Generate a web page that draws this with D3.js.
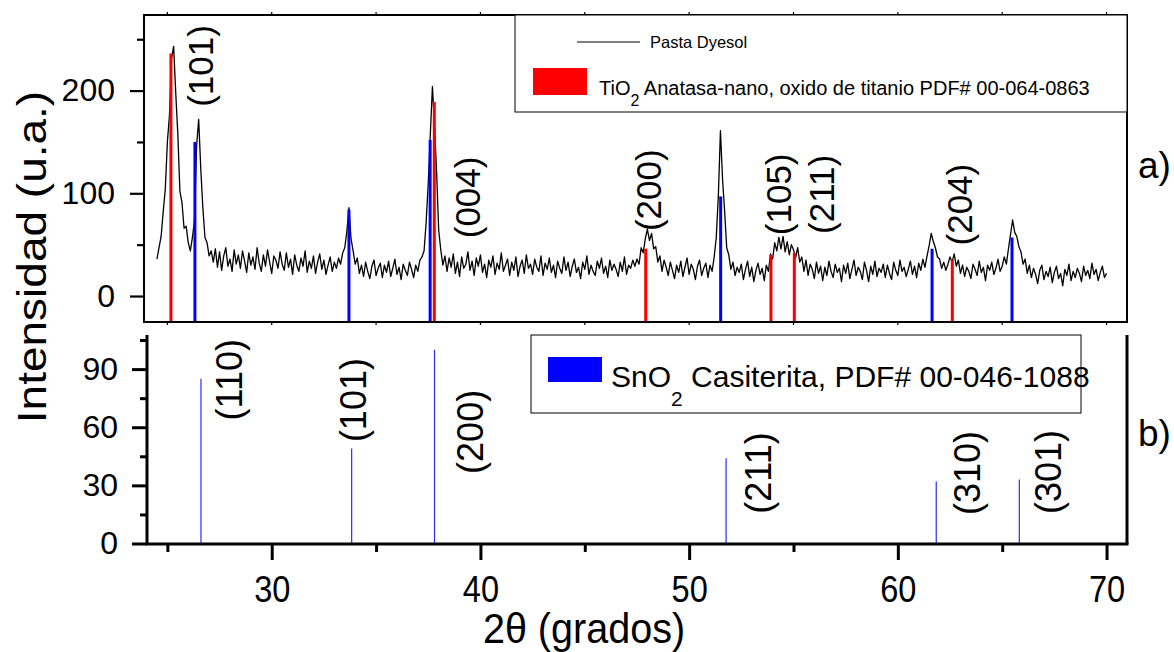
<!DOCTYPE html>
<html>
<head>
<meta charset="utf-8">
<script src="https://cdn.jsdelivr.net/npm/d3@7"></script>
<style>
  body { margin: 0; background: #fff; }
  svg { display: block; font-family: "Liberation Sans", Arial, sans-serif; }
</style>
</head>
<body>
<svg id="chart" width="1174" height="652"></svg>
<script>
// ---- measured pattern: Pasta Dyesol (2θ from 24.5° to 70.0°, every 0.1°) ----
const patternStart = 24.5;
const patternStep = 0.1;
const pastaDyesol = [
  36, 47, 58, 82, 104, 150, 176, 231, 243, 198,
  158, 102, 91, 66, 68, 52, 44, 57, 74, 146,
  172, 124, 86, 57, 52, 39, 44, 33, 46, 28,
  43, 25, 39, 47, 29, 36, 24, 45, 31, 40,
  27, 44, 34, 23, 42, 30, 38, 26, 47, 32,
  24, 40, 29, 45, 33, 22, 39, 35, 27, 43,
  31, 25, 42, 28, 36, 21, 40, 30, 24, 37,
  29, 44, 23, 34, 27, 39, 22, 33, 41, 26,
  35, 21, 30, 38, 24, 33, 27, 37, 31, 42,
  47, 63, 86, 56, 44, 31, 37, 22, 30, 19,
  33, 24, 17, 29, 35, 20, 27, 32, 18, 30,
  23, 34, 19, 27, 36, 21, 28, 16, 31, 25,
  20, 33, 26, 18, 30, 24, 35, 38, 44, 72,
  110, 158, 204, 166, 121, 64, 45, 30, 39, 24,
  37, 28, 41, 22, 33, 19, 38, 27, 31, 43,
  25, 34, 20, 37, 29, 40, 23, 31, 18, 35,
  28, 39, 21, 32, 26, 42, 24, 30, 36, 20,
  33, 25, 38, 19, 29, 35, 22, 40, 27, 31,
  21, 36, 28, 24, 39, 20, 32, 26, 37, 23,
  30, 18, 34, 27, 22, 38, 25, 33, 19, 29,
  36, 23, 28, 17, 33, 26, 39, 21, 30, 24,
  20, 34, 27, 37, 22, 29, 18, 35, 25, 31,
  26, 19, 33, 24, 38, 21, 30, 27, 35, 29,
  36, 31, 47, 42, 56, 65, 54, 61, 46, 48,
  33, 39, 24, 35, 28, 20, 33, 25, 17, 30,
  23, 34, 19, 28, 37, 21, 31, 26, 16, 29,
  35, 20, 27, 32, 18, 30, 24, 38, 57, 98,
  161, 114, 83, 47, 40, 26, 33, 20, 28, 23,
  31, 16, 26, 34, 19, 28, 14, 25, 32, 21,
  27, 15, 30, 24, 41, 36, 52, 44, 57, 46,
  58, 43, 53, 40, 50, 45, 37, 47, 33, 38,
  24, 35, 20, 31, 26, 17, 33, 22, 29, 15,
  28, 20, 34, 24, 18, 31, 23, 27, 14, 30,
  22, 32, 17, 26, 35, 20, 28, 24, 16, 33,
  25, 14, 29, 21, 34, 19, 27, 23, 31, 18,
  30, 22, 16, 33, 25, 20, 35, 24, 28, 19,
  26, 34, 21, 29, 18, 32, 25, 36, 28, 39,
  49, 61, 53, 47, 38, 36, 27, 33, 25, 31,
  38, 33, 41, 29, 35, 22, 30, 19, 28, 24,
  17, 31, 26, 20, 34, 23, 28, 15, 30, 25,
  33, 21, 27, 36, 24, 29, 38, 31, 46, 60,
  74, 62, 58, 48, 43, 31, 36, 22, 30, 18,
  27, 21, 12, 25, 30, 16, 24, 19, 28, 13,
  23, 29, 17, 22, 10, 26, 20, 31, 15, 24,
  18, 27, 22, 14, 29, 20, 25, 17, 32, 21,
  26, 15, 23, 29, 18, 22
];

// ---- TiO2 anatase reference lines (panel a) ----
const anataseAngles    = [25.17, 37.79, 47.92, 53.92, 55.04, 62.61];
const anataseIntensity = [236, 189, 46, 40, 42, 35];
const anataseHkl       = ["(101)", "(004)", "(200)", "(105)", "(211)", "(204)"];

// ---- SnO2 cassiterite lines drawn over the pattern (panel a) ----
const sno2MarkAngles    = [26.32, 33.70, 37.59, 51.51, 61.64, 65.47];
const sno2MarkIntensity = [150, 84, 152, 97, 46, 57];

// ---- SnO2 cassiterite reference card (panel b) ----
const sno2Angles    = [26.61, 33.83, 37.80, 51.77, 61.84, 65.82];
const sno2Intensity = [85, 49, 100, 44, 32, 33];
const sno2Hkl       = ["(110)", "(101)", "(200)", "(211)", "(310)", "(301)"];

// ---- axis ticks ----
const xTickValues       = [30, 40, 50, 60, 70];
const xMinorTickValues  = [25, 35, 45, 55, 65];
const yTopTickValues    = [0, 100, 200];
const yTopMinorValues   = [50, 150, 250];
const yBotTickValues    = [0, 30, 60, 90];
const yBotMinorValues   = [15, 45, 75, 105];

// ---- layout ----
const svg = d3.select("#chart");
const topBox = { left: 144, right: 1127, top: 15, bottom: 322 };
const botBox = { left: 147, right: 1127, top: 335, bottom: 544 };

const x = d3.scaleLinear().domain([23.88, 70.98]).range([topBox.left, topBox.right]);
const yTop = d3.scaleLinear().domain([-25.3, 273.6]).range([topBox.bottom, topBox.top]);
const yBot = d3.scaleLinear().domain([0, 107.6]).range([543.5, botBox.top]);

// hkl label anchors, in data units of each panel
const anataseLabelAt = [[26.61, 224], [39.40, 96], [48.07, 103], [54.30, 99], [56.36, 99], [62.97, 89]];
const sno2LabelAt    = [[28.0, 84.5], [33.94, 74], [39.54, 57.6], [53.30, 36.4], [63.36, 36.4], [67.24, 36.9]];

// ================= panel a =================
const gA = svg.append("g");

// frame ticks on top and bottom edges of panel a
[...xTickValues, ...xMinorTickValues].forEach(v => {
  gA.append("line").attr("x1", x(v)).attr("x2", x(v))
    .attr("y1", topBox.top).attr("y2", topBox.top - 3)
    .attr("stroke", "#000").attr("stroke-width", 1.2);
  gA.append("line").attr("x1", x(v)).attr("x2", x(v))
    .attr("y1", topBox.bottom).attr("y2", topBox.bottom + 3)
    .attr("stroke", "#000").attr("stroke-width", 1.2);
});

// measured pattern
const line = d3.line()
  .x((d, i) => x(patternStart + i * patternStep))
  .y(d => yTop(d));
gA.append("path").datum(pastaDyesol)
  .attr("d", line).attr("fill", "none")
  .attr("stroke", "#000").attr("stroke-width", 1.3).attr("stroke-linejoin", "round");

// reference drop lines
gA.selectAll(".sno2mark").data(sno2MarkAngles).join("line")
  .attr("x1", d => x(d)).attr("x2", d => x(d))
  .attr("y1", topBox.bottom).attr("y2", (d, i) => yTop(sno2MarkIntensity[i]))
  .attr("stroke", "#0000ff").attr("stroke-width", 3);
gA.selectAll(".anatase").data(anataseAngles).join("line")
  .attr("x1", d => x(d)).attr("x2", d => x(d))
  .attr("y1", topBox.bottom).attr("y2", (d, i) => yTop(anataseIntensity[i]))
  .attr("stroke", "#ff0000").attr("stroke-width", 3);

// frame
gA.append("rect")
  .attr("x", topBox.left).attr("y", topBox.top)
  .attr("width", topBox.right - topBox.left).attr("height", topBox.bottom - topBox.top)
  .attr("fill", "none").attr("stroke", "#000").attr("stroke-width", 2);

// y axis of panel a
const yAxisA = gA.append("g").attr("transform", `translate(${topBox.left},0)`)
  .call(d3.axisLeft(yTop).tickValues(yTopTickValues).tickSize(14).tickPadding(15).tickSizeOuter(0));
yAxisA.select(".domain").remove();
yAxisA.selectAll("line").attr("stroke-width", 2.2);
yAxisA.selectAll("text").attr("font-size", 32).attr("font-family", "Liberation Sans, Arial, sans-serif");
const yAxisAm = gA.append("g").attr("transform", `translate(${topBox.left},0)`)
  .call(d3.axisLeft(yTop).tickValues(yTopMinorValues).tickSize(7).tickFormat(""));
yAxisAm.select(".domain").remove();
yAxisAm.selectAll("line").attr("stroke-width", 2.2);

// hkl labels of panel a
gA.selectAll(".hklA").data(anataseHkl).join("text")
  .attr("transform", (d, i) => `translate(${x(anataseLabelAt[i][0])},${yTop(anataseLabelAt[i][1])}) rotate(-90)`)
  .attr("text-anchor", "middle").attr("dominant-baseline", "central")
  .attr("font-size", 35).text(d => d);

// legend of panel a
const legA = gA.append("g");
legA.append("rect").attr("x", 515).attr("y", topBox.top).attr("width", topBox.right - 515).attr("height", 97)
  .attr("fill", "#fff").attr("stroke", "#000").attr("stroke-width", 1);
legA.append("line").attr("x1", 577).attr("x2", 640).attr("y1", 42).attr("y2", 42)
  .attr("stroke", "#000").attr("stroke-width", 1.2);
legA.append("text").attr("x", 650).attr("y", 48).attr("font-size", 16.5).text("Pasta Dyesol");
legA.append("rect").attr("x", 533).attr("y", 68).attr("width", 54).attr("height", 27).attr("fill", "#ff0000");
const tA = legA.append("text").attr("x", 599).attr("y", 95).attr("font-size", 20);
tA.append("tspan").text("TiO");
tA.append("tspan").attr("font-size", 16).attr("dy", 11).text("2");
tA.append("tspan").attr("dy", -11).text(" Anatasa-nano, oxido de titanio PDF# 00-064-0863");

svg.append("text").attr("x", 1138).attr("y", 178).attr("font-size", 37).text("a)");

// ================= panel b =================
const gB = svg.append("g");

gB.selectAll(".sno2").data(sno2Angles).join("line")
  .attr("x1", d => x(d)).attr("x2", d => x(d))
  .attr("y1", yBot(0)).attr("y2", (d, i) => yBot(sno2Intensity[i]))
  .attr("stroke", "#2a2aff").attr("stroke-width", 1.2);

// axes lines
gB.append("line").attr("x1", botBox.left).attr("x2", botBox.left).attr("y1", botBox.top).attr("y2", botBox.bottom)
  .attr("stroke", "#000").attr("stroke-width", 3);
gB.append("line").attr("x1", botBox.left - 1.5).attr("x2", botBox.right + 1.5).attr("y1", botBox.bottom).attr("y2", botBox.bottom)
  .attr("stroke", "#000").attr("stroke-width", 3);
gB.append("line").attr("x1", botBox.right).attr("x2", botBox.right).attr("y1", botBox.top).attr("y2", botBox.bottom)
  .attr("stroke", "#000").attr("stroke-width", 3);

const yAxisB = gB.append("g").attr("transform", `translate(${botBox.left},0)`)
  .call(d3.axisLeft(yBot).tickValues(yBotTickValues).tickSize(15).tickPadding(14).tickSizeOuter(0));
yAxisB.select(".domain").remove();
yAxisB.selectAll("line").attr("stroke-width", 3);
yAxisB.selectAll("text").attr("font-size", 32).attr("font-family", "Liberation Sans, Arial, sans-serif");
const yAxisBm = gB.append("g").attr("transform", `translate(${botBox.left},0)`)
  .call(d3.axisLeft(yBot).tickValues(yBotMinorValues).tickSize(7).tickFormat(""));
yAxisBm.select(".domain").remove();
yAxisBm.selectAll("line").attr("stroke-width", 3);

const xAxisB = gB.append("g").attr("transform", `translate(0,${botBox.bottom})`)
  .call(d3.axisBottom(x).tickValues(xTickValues).tickSize(16).tickPadding(16).tickSizeOuter(0));
xAxisB.select(".domain").remove();
xAxisB.selectAll("line").attr("stroke-width", 3);
xAxisB.selectAll("text").attr("font-size", 37).attr("font-family", "Liberation Sans, Arial, sans-serif")
  .attr("transform", "scale(0.88,1)");
const xAxisBm = gB.append("g").attr("transform", `translate(0,${botBox.bottom})`)
  .call(d3.axisBottom(x).tickValues(xMinorTickValues).tickSize(8).tickFormat(""));
xAxisBm.select(".domain").remove();
xAxisBm.selectAll("line").attr("stroke-width", 3);

// hkl labels of panel b
gB.selectAll(".hklB").data(sno2Hkl).join("text")
  .attr("transform", (d, i) => `translate(${x(sno2LabelAt[i][0])},${yBot(sno2LabelAt[i][1])}) rotate(-90)`)
  .attr("text-anchor", "middle").attr("dominant-baseline", "central")
  .attr("font-size", 36).text(d => d);

// legend of panel b
const legB = gB.append("g");
legB.append("rect").attr("x", 531).attr("y", 335).attr("width", 550).attr("height", 78)
  .attr("fill", "#fff").attr("stroke", "#000").attr("stroke-width", 1);
legB.append("rect").attr("x", 548).attr("y", 357).attr("width", 54).attr("height", 25).attr("fill", "#0000ff");
const tB = legB.append("text").attr("x", 611).attr("y", 387).attr("font-size", 30);
tB.append("tspan").text("SnO");
tB.append("tspan").attr("font-size", 21).attr("dy", 19).text("2");
tB.append("tspan").attr("dy", -19).text(" Casiterita, PDF# 00-046-1088");

svg.append("text").attr("x", 1138).attr("y", 446).attr("font-size", 37).text("b)");

// ================= axis titles =================
svg.append("text")
  .attr("transform", "translate(584,643) scale(0.92,1)")
  .attr("text-anchor", "middle").attr("font-size", 43).text("2θ (grados)");
svg.append("text")
  .attr("transform", "translate(31,257) rotate(-90) scale(1,0.9)")
  .attr("text-anchor", "middle").attr("dominant-baseline", "central")
  .attr("font-size", 46).text("Intensidad (u.a.)");
</script>
</body>
</html>
